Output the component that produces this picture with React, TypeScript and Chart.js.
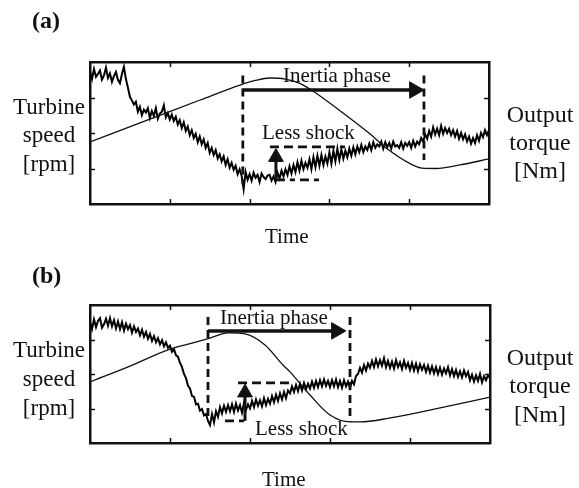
import React, { useEffect, useRef } from "react";
import { Chart, registerables } from "chart.js";

Chart.register(...registerables);

// ---------- axes ----------
const TIME_MIN = 0;
const TIME_MAX = 100;
const TIME_STEP = 0.5;
const LEVEL_MIN = 0;
const LEVEL_MAX = 4;
const TIME_TICKS = [20, 40, 60, 80];
const LEVEL_TICKS = [1, 2, 3];

// ---------- panel (a) ----------
const torqueA = [
  3.72, 3.52, 3.80, 3.58, 3.66, 3.76, 3.50, 3.62, 3.84, 3.55,
  3.68, 3.44, 3.60, 3.72, 3.50, 3.40, 3.66, 3.86, 3.52, 3.28,
  3.02, 2.92, 2.80, 2.88, 2.60, 2.74, 2.50, 2.66, 2.58, 2.70,
  2.42, 2.62, 2.48, 2.70, 2.40, 2.55, 2.60, 2.78, 2.44, 2.56,
  2.38, 2.52, 2.34, 2.46, 2.24, 2.36, 2.14, 2.30, 2.06, 2.18,
  1.94, 2.08, 1.86, 1.98, 1.74, 1.90, 1.68, 1.82, 1.58, 1.72,
  1.44, 1.58, 1.38, 1.52, 1.28, 1.40, 1.20, 1.34, 1.10, 1.26,
  1.02, 1.16, 0.96, 1.08, 0.84, 0.98, 0.80, 0.42, 0.90, 0.68,
  0.84, 0.66, 0.88, 0.74, 0.82, 0.62, 0.86, 0.76, 0.70, 0.80,
  0.82, 0.66, 0.78, 0.62, 0.88, 0.72, 0.94, 0.78, 0.98, 0.82,
  1.06, 0.86, 1.10, 0.90, 1.18, 0.94, 1.22, 0.98, 1.16, 1.02,
  1.26, 0.98, 1.32, 1.04, 1.36, 1.08, 1.38, 1.10, 1.34, 1.14,
  1.46, 1.14, 1.50, 1.20, 1.56, 1.24, 1.54, 1.28, 1.50, 1.32,
  1.56, 1.36, 1.60, 1.40, 1.62, 1.46, 1.66, 1.46, 1.62, 1.52,
  1.70, 1.52, 1.74, 1.58, 1.68, 1.62, 1.76, 1.56, 1.74, 1.60,
  1.72, 1.56, 1.76, 1.62, 1.66, 1.58, 1.74, 1.56, 1.72, 1.64,
  1.74, 1.58, 1.78, 1.62, 1.76, 1.68, 1.86, 1.76, 1.96, 1.84,
  2.06, 1.90, 2.16, 1.96, 2.12, 1.94, 2.20, 1.98, 2.14, 2.00,
  2.12, 1.94, 2.08, 1.90, 2.06, 1.84, 2.00, 1.82, 1.96, 1.76,
  1.90, 1.70, 1.86, 1.72, 1.94, 1.78, 2.00, 1.88, 2.08, 1.94,
  2.08,
];
const speedA_time = [0, 15, 27.6, 37.6, 41.4, 45.1, 48.9, 52.6, 55.1, 62.4, 69.9, 74.9, 80, 83.2, 86.7, 92.7, 100];
const speedA_value = [1.75, 2.39, 2.93, 3.35, 3.48, 3.55, 3.52, 3.40, 3.24, 2.65, 2.0, 1.52, 1.15, 1.01, 1.0, 1.10, 1.27];
// inertia-phase boundaries: time, top, bottom
const phaseA_time = [38.3, 83.7];
const phaseA_top = [3.62, 3.62];
const phaseA_bottom = [0.55, 1.24];
// arrow: start time, head time, level
const phaseArrowA = [38.3, 81.3, 3.21];
// less-shock box: [t0, t1, level]
const shockTopA = [45.1, 63.9, 1.61];
const shockBottomA = [46.6, 57.4, 0.68];
// shock arrow: time, base level, head level
const shockArrowA = [46.6, 0.68, 1.32];

// ---------- panel (b) ----------
const torqueB = [
  3.50, 3.30, 3.58, 3.36, 3.54, 3.62, 3.34, 3.44, 3.60, 3.40,
  3.62, 3.38, 3.56, 3.32, 3.52, 3.30, 3.50, 3.26, 3.46, 3.30,
  3.42, 3.20, 3.38, 3.22, 3.32, 3.12, 3.28, 3.08, 3.22, 3.02,
  3.16, 2.96, 3.10, 2.92, 3.04, 2.86, 2.98, 2.80, 2.92, 2.76,
  2.82, 2.64, 2.72, 2.54, 2.50, 2.32, 2.20, 2.00, 1.88, 1.66,
  1.58, 1.36, 1.34, 1.12, 1.14, 0.94, 0.98, 0.80, 0.84, 0.64,
  0.52, 0.84, 0.60, 0.92, 0.76, 1.04, 0.86, 1.08, 0.90, 1.10,
  0.92, 1.12, 0.90, 1.14, 0.94, 1.10, 0.88, 1.16, 0.96, 1.12,
  1.00, 1.22, 1.04, 1.26, 1.08, 1.24, 1.06, 1.30, 1.10, 1.28,
  1.14, 1.36, 1.18, 1.40, 1.22, 1.44, 1.26, 1.48, 1.30, 1.52,
  1.44, 1.64, 1.48, 1.68, 1.50, 1.72, 1.52, 1.74, 1.56, 1.72,
  1.58, 1.78, 1.60, 1.80, 1.62, 1.82, 1.64, 1.84, 1.66, 1.80,
  1.62, 1.82, 1.64, 1.84, 1.62, 1.80, 1.60, 1.82, 1.64, 1.78,
  1.60, 1.80, 1.70, 1.94, 2.00, 2.18, 2.04, 2.26, 2.10, 2.30,
  2.18, 2.38, 2.20, 2.42, 2.22, 2.40, 2.24, 2.46, 2.20, 2.38,
  2.18, 2.36, 2.16, 2.40, 2.20, 2.34, 2.14, 2.38, 2.18, 2.32,
  2.12, 2.32, 2.10, 2.30, 2.08, 2.28, 2.12, 2.26, 2.06, 2.24,
  2.04, 2.22, 2.02, 2.20, 2.00, 2.18, 1.98, 2.16, 2.02, 2.20,
  1.96, 2.14, 1.94, 2.12, 1.92, 2.08, 1.90, 2.10, 1.94, 2.06,
  1.82, 1.98, 1.78, 1.96, 1.80, 2.00, 1.76, 1.94, 1.82, 1.96,
  1.88,
];
const speedB_time = [0, 10, 20, 25, 30, 34.5, 38.75, 43.75, 48.25, 50, 55, 60, 65, 67.5, 74.75, 87.25, 100];
const speedB_value = [1.77, 2.23, 2.72, 2.88, 3.04, 3.19, 3.16, 2.84, 2.26, 2.06, 1.39, 0.81, 0.61, 0.61, 0.72, 1.01, 1.33];
const phaseB_time = [29.5, 65];
const phaseB_top = [3.65, 3.65];
const phaseB_bottom = [0.67, 0.61];
const phaseArrowB = [29.5, 61.6, 3.25];
const shockTopB = [37, 51, 1.74];
const shockBottomB = [33.75, 38.75, 0.64];
const shockArrowB = [38.75, 0.64, 1.46];

const INK = "#111";
const SERIF = '"Liberation Serif", "Times New Roman", serif';

type PanelData = {
  torque: number[];
  speedT: number[];
  speedV: number[];
  phaseT: number[];
  phaseTop: number[];
  phaseBottom: number[];
  phaseArrow: number[];
  shockTop: number[];
  shockBottom: number[];
  shockArrow: number[];
};

function seg(points: { x: number; y: number }[], extra: any = {}) {
  return {
    data: points,
    borderColor: INK,
    backgroundColor: INK,
    borderWidth: 2.8,
    pointRadius: 0,
    tension: 0,
    ...extra,
  };
}

function buildDatasets(p: PanelData) {
  const ds: any[] = [];
  p.phaseT.forEach((t, i) => {
    ds.push(seg([{ x: t, y: p.phaseTop[i] }, { x: t, y: p.phaseBottom[i] }], { borderDash: [8, 5] }));
  });
  ds.push(seg([{ x: p.shockTop[0], y: p.shockTop[2] }, { x: p.shockTop[1], y: p.shockTop[2] }], { borderDash: [9, 5] }));
  ds.push(seg([{ x: p.shockBottom[0], y: p.shockBottom[2] }, { x: p.shockBottom[1], y: p.shockBottom[2] }], { borderDash: [9, 5, 5, 5] }));
  ds.push(seg([{ x: p.phaseArrow[0], y: p.phaseArrow[2] }, { x: p.phaseArrow[1], y: p.phaseArrow[2] }], {
    borderWidth: 3.5,
    pointRadius: [0, 9.5],
    pointStyle: "triangle",
    pointRotation: 90,
    pointBackgroundColor: INK,
    pointBorderColor: INK,
    pointBorderWidth: 1,
  }));
  ds.push(seg([{ x: p.shockArrow[0], y: p.shockArrow[1] }, { x: p.shockArrow[0], y: p.shockArrow[2] }], {
    borderWidth: 3,
    pointRadius: [0, 8.5],
    pointStyle: "triangle",
    pointRotation: 0,
    pointBackgroundColor: INK,
    pointBorderColor: INK,
    pointBorderWidth: 1,
  }));
  ds.push({
    data: p.speedT.map((x, i) => ({ x, y: p.speedV[i] })),
    borderColor: INK,
    borderWidth: 1.3,
    pointRadius: 0,
    cubicInterpolationMode: "monotone",
  });
  ds.push({
    data: p.torque.map((y, i) => ({ x: i * TIME_STEP, y })),
    borderColor: "#000",
    borderWidth: 2,
    pointRadius: 0,
    tension: 0,
  });
  return ds;
}

const inwardTicks = {
  id: "inwardTicks",
  afterDatasetsDraw(chart: any) {
    const { ctx, chartArea: a, scales } = chart;
    ctx.save();
    ctx.strokeStyle = INK;
    ctx.lineWidth = 1.5;
    ctx.beginPath();
    for (const t of TIME_TICKS) {
      const px = Math.round(scales.x.getPixelForValue(t)) + 0.5;
      ctx.moveTo(px, a.bottom);
      ctx.lineTo(px, a.bottom - 5);
      ctx.moveTo(px, a.top);
      ctx.lineTo(px, a.top + 5);
    }
    for (const v of LEVEL_TICKS) {
      const py = Math.round(scales.y.getPixelForValue(v)) + 0.5;
      ctx.moveTo(a.left, py);
      ctx.lineTo(a.left + 5, py);
      ctx.moveTo(a.right, py);
      ctx.lineTo(a.right - 5, py);
    }
    ctx.stroke();
    ctx.restore();
  },
};

function axis(position: string, min: number, max: number) {
  return {
    type: "linear",
    position,
    min,
    max,
    ticks: { display: false },
    grid: { display: false, drawTicks: false },
    border: { display: true, color: INK, width: 2.5 },
  };
}

function makeChart(canvas: HTMLCanvasElement, p: PanelData, padding: any) {
  return new Chart(canvas, {
    type: "line",
    data: { datasets: buildDatasets(p) },
    options: {
      responsive: false,
      animation: false,
      devicePixelRatio: 1,
      layout: { padding, autoPadding: false },
      plugins: { legend: { display: false }, tooltip: { enabled: false }, title: { display: false } },
      scales: {
        x: axis("bottom", TIME_MIN, TIME_MAX),
        x2: axis("top", TIME_MIN, TIME_MAX),
        y: axis("left", LEVEL_MIN, LEVEL_MAX),
        y2: axis("right", LEVEL_MIN, LEVEL_MAX),
      },
    } as any,
    plugins: [inwardTicks],
  } as any);
}

function Txt(props: {
  left: number;
  baseline: number;
  size: number;
  lh?: number;
  bold?: boolean;
  width?: number;
  children: React.ReactNode;
}) {
  const L = props.lh ?? props.size;
  const top = props.baseline - ((L - 1.107 * props.size) / 2 + 0.891 * props.size);
  return (
    <div
      style={{
        position: "absolute",
        left: props.left,
        top,
        width: props.width,
        textAlign: props.width ? "center" : "left",
        fontFamily: SERIF,
        fontSize: props.size,
        lineHeight: `${L}px`,
        fontWeight: props.bold ? "bold" : "normal",
        whiteSpace: "pre",
        color: "#111",
      }}
    >
      {props.children}
    </div>
  );
}

export default function App() {
  const refA = useRef<HTMLCanvasElement>(null);
  const refB = useRef<HTMLCanvasElement>(null);

  useEffect(() => {
    const a = makeChart(
      refA.current!,
      {
        torque: torqueA,
        speedT: speedA_time,
        speedV: speedA_value,
        phaseT: phaseA_time,
        phaseTop: phaseA_top,
        phaseBottom: phaseA_bottom,
        phaseArrow: phaseArrowA,
        shockTop: shockTopA,
        shockBottom: shockBottomA,
        shockArrow: shockArrowA,
      },
      { left: 90, right: 90, top: 62, bottom: 40 }
    );
    const b = makeChart(
      refB.current!,
      {
        torque: torqueB,
        speedT: speedB_time,
        speedV: speedB_value,
        phaseT: phaseB_time,
        phaseTop: phaseB_top,
        phaseBottom: phaseB_bottom,
        phaseArrow: phaseArrowB,
        shockTop: shockTopB,
        shockBottom: shockBottomB,
        shockArrow: shockArrowB,
      },
      { left: 90, right: 89, top: 61, bottom: 45 }
    );
    return () => {
      a.destroy();
      b.destroy();
    };
  }, []);

  return (
    <div style={{ position: "absolute", left: 0, top: 0, width: 579, height: 488, background: "#fff", overflow: "hidden" }}>
      <canvas ref={refA} width={579} height={244} style={{ position: "absolute", left: 0, top: 0, width: 579, height: 244 }} />
      <canvas ref={refB} width={579} height={244} style={{ position: "absolute", left: 0, top: 244, width: 579, height: 244 }} />

      <Txt left={32} baseline={28} size={24} bold>(a)</Txt>
      <Txt left={0} width={98} baseline={115} size={23} lh={28.5}>{"Turbine\nspeed\n[rpm]"}</Txt>
      <Txt left={490} width={100} baseline={122} size={24} lh={28}>{"Output\ntorque\n[Nm]"}</Txt>
      <Txt left={283} baseline={83} size={21}>Inertia phase</Txt>
      <Txt left={262} baseline={140} size={21}>Less shock</Txt>
      <Txt left={265} baseline={244} size={21}>Time</Txt>

      <Txt left={32} baseline={283} size={24} bold>(b)</Txt>
      <Txt left={0} width={98} baseline={357} size={23} lh={29}>{"Turbine\nspeed\n[rpm]"}</Txt>
      <Txt left={490} width={100} baseline={365} size={24} lh={28.5}>{"Output\ntorque\n[Nm]"}</Txt>
      <Txt left={220} baseline={325} size={21}>Inertia phase</Txt>
      <Txt left={255} baseline={436} size={21}>Less shock</Txt>
      <Txt left={262} baseline={487} size={21}>Time</Txt>
    </div>
  );
}
